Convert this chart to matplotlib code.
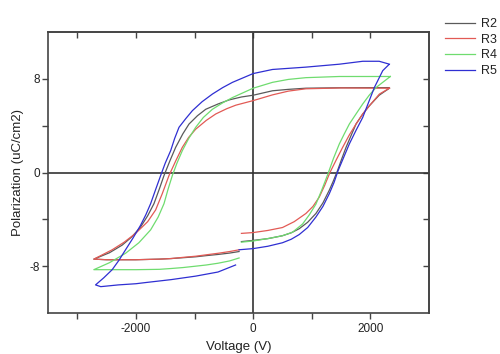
import numpy as np
import matplotlib
matplotlib.use("Agg")
import matplotlib.pyplot as plt

plt.rcParams['font.family'] = ['Liberation Sans', 'DejaVu Sans']
plt.rcParams['axes.unicode_minus'] = False

labels = ["R2", "R3", "R4", "R5"]
colors = ["#5a5a5a", "#e25a55", "#6fdc6f", "#2f2fd2"]

# Each loop: upper branch (tip -> left tip), lower-left branch, then lower-right branch
r2_upper_v = [2325, 1500, 900, 600, 330, 0, -200, -410, -600, -809, -950, -1094, -1200, -1322, -1420, -1521,
              -1600, -1692, -1800, -1920, -2070, -2234, -2450, -2718]
r2_upper_p = [7.25, 7.24, 7.2, 7.1, 6.98, 6.6, 6.45, 6.2, 5.85, 5.4, 4.85, 4.14, 3.3, 2.15, 1.0, -0.26,
              -1.4, -2.66, -3.7, -4.65, -5.5, -6.2, -6.85, -7.4]
r2_lowl_v = [-2718, -2500, -2300, -2000, -1600, -1400, -1200, -980, -800, -600, -400, -240]
r2_lowl_p = [-7.4, -7.45, -7.45, -7.45, -7.4, -7.35, -7.28, -7.2, -7.1, -7.0, -6.88, -6.75]
r2_lowr_v = [-200, 0, 250, 500, 650, 786, 930, 1071, 1190, 1300, 1370, 1440, 1510, 1585, 1670, 1755,
             1870, 1983, 2150, 2325]
r2_lowr_p = [-5.9, -5.8, -5.65, -5.4, -5.15, -4.8, -4.25, -3.5, -2.6, -1.5, -0.7, 0.17, 1.15, 2.15, 3.15, 4.14,
             5.0, 5.7, 6.6, 7.2]

r3_upper_v = [2325, 1500, 900, 600, 330, 0, -296, -450, -638, -800, -980, -1100, -1208, -1320, -1436,
              -1550, -1664, -1800, -2006, -2200, -2405, -2718]
r3_upper_p = [7.2, 7.22, 7.15, 6.95, 6.63, 6.14, 5.75, 5.45, 5.0, 4.45, 3.7, 3.0, 2.15, 1.0, -0.26,
              -1.8, -3.2, -4.2, -5.2, -5.95, -6.6, -7.4]
r3_lowl_v = [-2718, -2500, -2300, -2000, -1600, -1400, -1200, -980, -800, -600, -400, -240]
r3_lowl_p = [-7.4, -7.45, -7.45, -7.45, -7.4, -7.35, -7.25, -7.15, -7.03, -6.9, -6.75, -6.6]
r3_lowr_v = [-200, 0, 250, 500, 700, 900, 1020, 1128, 1220, 1310, 1420, 1527, 1640, 1755, 1870, 1983,
             2154, 2325]
r3_lowr_p = [-5.2, -5.13, -4.95, -4.7, -4.2, -3.5, -2.9, -2.1, -1.1, 0.0, 1.1, 2.15, 3.2, 4.14, 5.0, 5.7,
             6.7, 7.2]

r4_upper_v = [2340, 1470, 900, 600, 330, 0, -353, -520, -695, -850, -980, -1100, -1208, -1300, -1379,
              -1450, -1521, -1620, -1749, -1950, -2177, -2450, -2718]
r4_upper_p = [8.2, 8.2, 8.1, 7.95, 7.7, 7.2, 6.4, 5.95, 5.4, 4.7, 3.86, 2.9, 1.87, 0.8, -0.26,
              -1.4, -2.66, -3.8, -4.9, -6.0, -6.9, -7.7, -8.3]
r4_lowl_v = [-2718, -2500, -2300, -2000, -1600, -1400, -1200, -980, -800, -600, -400, -240]
r4_lowl_p = [-8.3, -8.3, -8.3, -8.3, -8.27, -8.2, -8.12, -8.0, -7.9, -7.75, -7.55, -7.3]
r4_lowr_v = [-200, 0, 300, 500, 672, 843, 960, 1071, 1170, 1270, 1370, 1470, 1555, 1641, 1755, 1869,
             1980, 2097, 2340]
r4_lowr_p = [-5.95, -5.85, -5.6, -5.4, -5.1, -4.4, -3.6, -2.7, -1.5, -0.2, 1.2, 2.44, 3.3, 4.14, 5.0, 5.85,
             6.6, 7.26, 8.2]

r5_upper_v = [2325, 2150, 1870, 1470, 900, 330, 0, -353, -520, -695, -870, -1037, -1150, -1265, -1340,
              -1407, -1500, -1578, -1660, -1749, -1830, -1920, -2050, -2177, -2290, -2405, -2550, -2689]
r5_upper_p = [9.25, 9.5, 9.5, 9.25, 9.0, 8.8, 8.45, 7.7, 7.25, 6.7, 6.05, 5.28, 4.6, 3.86, 2.9,
              1.87, 0.8, -0.26, -1.4, -2.66, -3.6, -4.5, -5.6, -6.6, -7.5, -8.3, -9.0, -9.6]
r5_lowl_v = [-2689, -2600, -2300, -2000, -1835, -1400, -980, -600, -300]
r5_lowl_p = [-9.6, -9.75, -9.6, -9.5, -9.4, -9.15, -8.85, -8.5, -7.9]
r5_lowr_v = [-240, 0, 250, 500, 650, 786, 930, 1071, 1190, 1300, 1380, 1450, 1545, 1641, 1755, 1869,
             1970, 2068, 2211, 2313]
r5_lowr_p = [-6.6, -6.5, -6.3, -6.0, -5.7, -5.3, -4.7, -3.8, -2.9, -1.8, -0.85, 0.17, 1.3, 2.44, 3.6, 4.7,
             6.0, 7.26, 8.7, 9.2]

series = [
    (r2_upper_v, r2_upper_p, r2_lowl_v, r2_lowl_p, r2_lowr_v, r2_lowr_p),
    (r3_upper_v, r3_upper_p, r3_lowl_v, r3_lowl_p, r3_lowr_v, r3_lowr_p),
    (r4_upper_v, r4_upper_p, r4_lowl_v, r4_lowl_p, r4_lowr_v, r4_lowr_p),
    (r5_upper_v, r5_upper_p, r5_lowl_v, r5_lowl_p, r5_lowr_v, r5_lowr_p),
]

x_ticks = [-2000, 0, 2000]
y_ticks = [-8, 0, 8]

fig = plt.figure(figsize=(5.0, 3.54), dpi=100)
ax = fig.add_axes([48/500, 41/354, (429-48)/500, (313-32)/354])

ax.axhline(0, color="#333333", lw=1.2, zorder=1)
ax.axvline(0, color="#333333", lw=1.2, zorder=1)

for (uv, up, lv, lp, rv, rp), lab, col in zip(series, labels, colors):
    v = list(uv) + list(lv) + [np.nan] + list(rv)
    p = list(up) + list(lp) + [np.nan] + list(rp)
    ax.plot(v, p, color=col, lw=0.9, label=lab, zorder=2)

ax.set_xlim(-3500, 3000)
ax.set_ylim(-12, 12)
ax.set_xticks(x_ticks)
ax.set_xticks([-3000, -1000, 1000], minor=True)
ax.set_yticks(y_ticks)
ax.set_yticks([-4, 4], minor=True)
ax.tick_params(which="both", direction="out", length=4, width=1, color="#444444",
               labelsize=8.5, pad=2, top=False, right=False)
ax.tick_params(axis="x", which="both", pad=3)
ax.tick_params(which="both", labelcolor="#222222")
ax2x = ax.secondary_xaxis('top')
ax2x.set_xticks([-3000, -2000, -1000, 0, 1000, 2000])
ax2x.tick_params(direction="in", length=4, width=1, color="#444444", labeltop=False)
ax2y = ax.secondary_yaxis('right')
ax2y.set_yticks([-8, -4, 0, 4, 8])
ax2y.tick_params(direction="in", length=4, width=1, color="#444444", labelright=False)
for a in (ax, ax2x, ax2y):
    for s in a.spines.values():
        s.set_color("#444444")
        s.set_linewidth(1.2)

ax.set_xlabel("Voltage (V)", fontsize=9.5, color="#222222", labelpad=4.5)
ax.set_ylabel("Polarization (uC/cm2)", fontsize=9.5, color="#222222", labelpad=4)

leg = ax.legend(loc="upper left", bbox_to_anchor=(445/500, 1 - 18/354),
                bbox_transform=fig.transFigure, frameon=False, fontsize=9,
                handlelength=2.4, handletextpad=0.5, labelspacing=0.3,
                borderpad=0, borderaxespad=0)
for t in leg.get_texts():
    t.set_color("#222222")

fig.savefig("out.png", dpi=100)
